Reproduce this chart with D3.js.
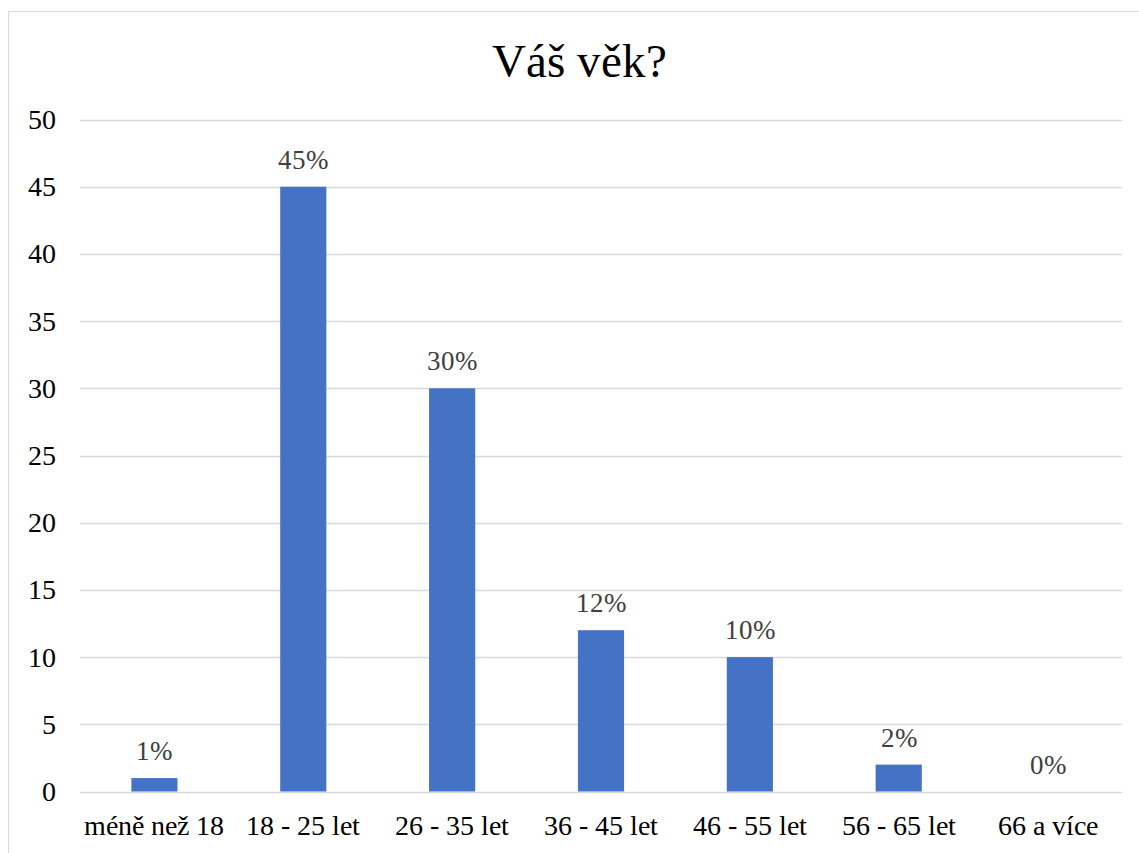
<!DOCTYPE html>
<html><head><meta charset="utf-8"><script src="https://cdn.jsdelivr.net/npm/d3@7"></script>
<style>
  @font-face { font-family: 'ChartSerif'; src: local('Liberation Serif'), local('LiberationSerif'), local('LiberationSerif-Regular'), local('Tinos'), local('Times New Roman'); }
  .serif { font-family: 'ChartSerif', 'Liberation Serif', 'Times New Roman'; }
</style>
</head>
<body style="margin:0">
<svg id="chart" width="1139" height="853"></svg>
<script>
// values
let categories = ["méně než 18", "18 - 25 let", "26 - 35 let", "36 - 45 let", "46 - 55 let", "56 - 65 let", "66 a více"];
let values = [1, 45, 30, 12, 10, 2, 0];
let labels = ["1%", "45%", "30%", "12%", "10%", "2%", "0%"];
let yTicks = [0, 5, 10, 15, 20, 25, 30, 35, 40, 45, 50];

let svg = d3.select('#chart');

let plotLeft = 80;
let plotRight = 1122;
let plotTop = 119.5;
let plotBottom = 791.5;

let x = d3.scaleBand().domain(categories).range([plotLeft, plotRight]).paddingInner(0.69).paddingOuter(0.345);
let band = d3.scaleBand().domain(categories).range([plotLeft, plotRight]);
let y = d3.scaleLinear().domain([0, 50]).range([plotBottom, plotTop]);

// outer frame (only top and left show in the picture)
svg.append('rect')
  .attr('x', 8.5).attr('y', 11.5)
  .attr('width', 1160).attr('height', 900)
  .attr('fill', 'none')
  .attr('stroke', '#d9d9d9');

// gridlines
svg.append('g').selectAll('line')
  .data(yTicks).enter().append('line')
  .attr('x1', plotLeft).attr('x2', plotRight)
  .attr('y1', d => Math.round(y(d)) + 0.5)
  .attr('y2', d => Math.round(y(d)) + 0.5)
  .attr('stroke', '#d9d9d9')
  .attr('stroke-width', 1.5);

// bars
svg.append('g').selectAll('rect')
  .data(values).enter().append('rect')
  .attr('x', (d, i) => x(categories[i]))
  .attr('width', x.bandwidth())
  .attr('y', d => y(d))
  .attr('height', d => plotBottom - y(d))
  .attr('fill', '#4472c4');

let txt = svg.append('g').attr('class', 'serif');

txt.append('text')
  .attr('class', 'serif')
  .attr('x', 579).attr('y', 77)
  .attr('font-size', 47)
  .style('text-anchor', 'middle')
  .text('Váš věk?');

txt.selectAll('.ytick')
  .data(yTicks).enter().append('text')
  .attr('class', 'ytick serif')
  .attr('x', 56)
  .attr('y', d => y(d) + 9.5)
  .attr('font-size', 28)
  .style('text-anchor', 'end')
  .text(d => d);

txt.selectAll('.dlabel')
  .data(values).enter().append('text')
  .attr('class', 'dlabel serif')
  .attr('x', (d, i) => band(categories[i]) + band.bandwidth() / 2)
  .attr('y', d => y(d) - 18)
  .attr('font-size', 27)
  .attr('fill', '#404040')
  .style('text-anchor', 'middle')
  .text((d, i) => labels[i]);

txt.selectAll('.cat')
  .data(categories).enter().append('text')
  .attr('class', 'cat serif')
  .attr('x', d => band(d) + band.bandwidth() / 2)
  .attr('y', plotBottom + 43.5)
  .attr('font-size', 28)
  .style('text-anchor', 'middle')
  .text(d => d);
</script>
</body></html>
